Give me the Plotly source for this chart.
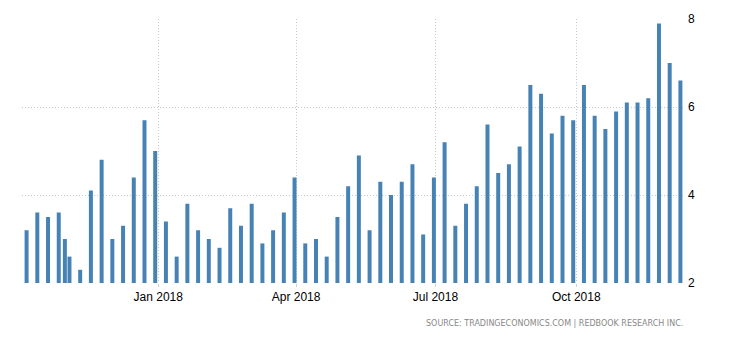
import plotly.graph_objects as go
import pandas as pd

dates = [
    "2017-10-07", "2017-10-14", "2017-10-21", "2017-10-28", "2017-11-01", "2017-11-04",
    "2017-11-11", "2017-11-18", "2017-11-25", "2017-12-02", "2017-12-09", "2017-12-16",
    "2017-12-23", "2017-12-30", "2018-01-06", "2018-01-13", "2018-01-20", "2018-01-27",
    "2018-02-03", "2018-02-10", "2018-02-17", "2018-02-24", "2018-03-03", "2018-03-10",
    "2018-03-17", "2018-03-24", "2018-03-31", "2018-04-07", "2018-04-14", "2018-04-21",
    "2018-04-28", "2018-05-05", "2018-05-12", "2018-05-19", "2018-05-26", "2018-06-02",
    "2018-06-09", "2018-06-16", "2018-06-23", "2018-06-30", "2018-07-07", "2018-07-14",
    "2018-07-21", "2018-07-28", "2018-08-04", "2018-08-11", "2018-08-18", "2018-08-25",
    "2018-09-01", "2018-09-08", "2018-09-15", "2018-09-22", "2018-09-29", "2018-10-06",
    "2018-10-13", "2018-10-20", "2018-10-27", "2018-11-03", "2018-11-10", "2018-11-17",
    "2018-11-24", "2018-12-01", "2018-12-08",
]
values = [
    3.2, 3.6, 3.5, 3.6, 3.0, 2.6,
    2.3, 4.1, 4.8, 3.0, 3.3, 4.4,
    5.7, 5.0, 3.4, 2.6, 3.8, 3.2,
    3.0, 2.8, 3.7, 3.3, 3.8, 2.9,
    3.2, 3.6, 4.4, 2.9, 3.0, 2.6,
    3.5, 4.2, 4.9, 3.2, 4.3, 4.0,
    4.3, 4.7, 3.1, 4.4, 5.2, 3.3,
    3.8, 4.2, 5.6, 4.5, 4.7, 5.1,
    6.5, 6.3, 5.4, 5.8, 5.7, 6.5,
    5.8, 5.5, 5.9, 6.1, 6.1, 6.2,
    7.9, 7.0, 6.6,
]
y_ticks = [2, 4, 6, 8]
x_tick_dates = ["2018-01-01", "2018-04-01", "2018-07-01", "2018-10-01"]
x_tick_labels = ["Jan 2018", "Apr 2018", "Jul 2018", "Oct 2018"]
source_text = "SOURCE: TRADINGECONOMICS.COM | REDBOOK RESEARCH INC."

day_ms = 24 * 3600 * 1000
bar_width = 2.6 * day_ms

fig = go.Figure()
fig.add_trace(go.Bar(
    x=pd.to_datetime(dates), y=values,
    width=[bar_width] * len(values),
    marker=dict(color="#4682b4", line=dict(width=0)),
    hoverinfo="x+y",
))

fig.update_layout(
    width=730, height=340,
    margin=dict(l=22, r=45, t=19, b=57),
    paper_bgcolor="white", plot_bgcolor="white",
    showlegend=False,
    font=dict(family="Liberation Sans, Arial, sans-serif", size=12, color="#000"),
    xaxis=dict(
        type="date",
        range=["2017-10-04", "2018-12-11"],
        tickvals=x_tick_dates, ticktext=x_tick_labels,
        showgrid=True, gridcolor="#c8c8c8", griddash="1px,2px", gridwidth=1,
        ticks="outside", ticklen=3, tickcolor="#d0d0d0",
        showline=False, zeroline=False,
        tickfont=dict(size=12, color="#000"),
    ),
    yaxis=dict(
        range=[2, 8], side="right",
        tickvals=y_ticks,
        showgrid=True, gridcolor="#c8c8c8", griddash="1px,2px", gridwidth=1,
        showline=False, zeroline=False, ticks="",
        ticklabelstandoff=2,
        tickfont=dict(size=12, color="#000"),
    ),
    annotations=[dict(
        text=source_text, xref="paper", yref="paper",
        x=1, y=-0.155, xanchor="right", yanchor="middle",
        showarrow=False,
        font=dict(family="DejaVu Sans, sans-serif", size=8, color="#888888"),
    )],
)

fig.write_html("out.html")
